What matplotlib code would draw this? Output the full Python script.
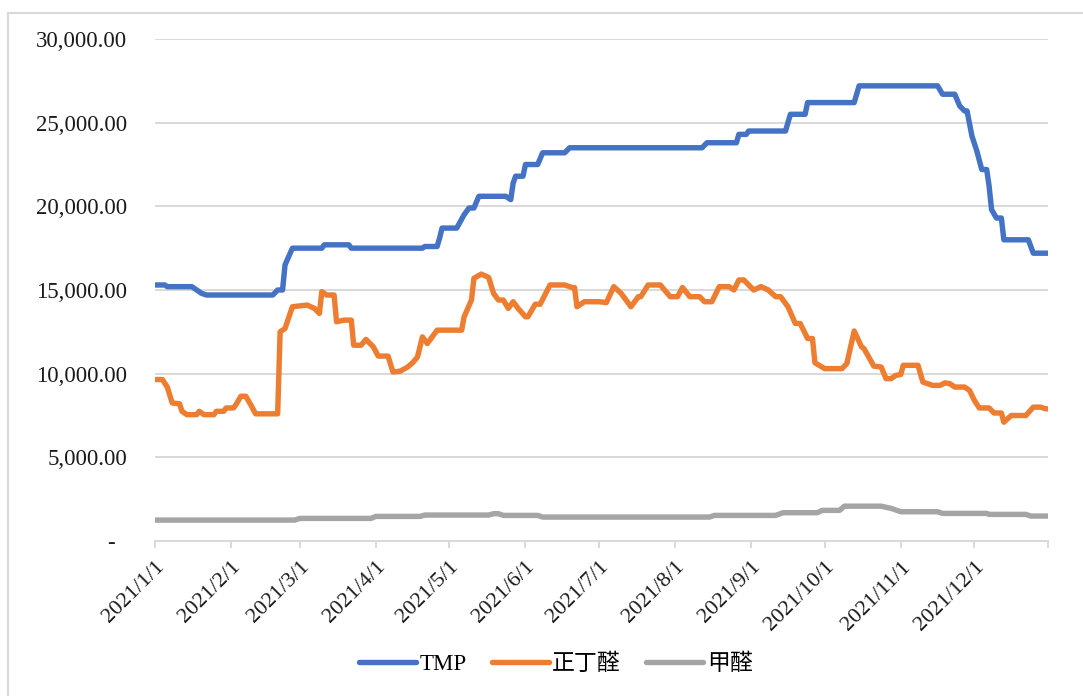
import pandas as pd
import matplotlib
matplotlib.use('Agg')
import matplotlib.pyplot as plt
from matplotlib.lines import Line2D
from matplotlib.ticker import FuncFormatter

plt.rcParams['font.family'] = ['Liberation Serif', 'Noto Sans CJK SC']

# 图例名称
series_names = ['TMP', '正丁醛', '甲醛']

# TMP 价格 (日期, 元/吨)
tmp_dates = ['01-01', '01-05', '01-06', '01-16', '01-20', '01-22', '02-18', '02-20', '02-22',
             '02-23', '02-26', '03-10', '03-11', '03-21', '03-22', '04-20', '04-21', '04-26',
             '04-27', '04-28', '05-04', '05-07', '05-09', '05-11', '05-13', '05-24', '05-26',
             '05-27', '05-28', '05-31', '06-01', '06-06', '06-08', '06-17', '06-19', '08-12',
             '08-14', '08-26', '08-27', '08-30', '08-31', '09-15', '09-17', '09-23', '09-24',
             '10-13', '10-15', '11-16', '11-18', '11-23', '11-25', '11-27', '11-28', '11-30',
             '12-02', '12-04', '12-06', '12-07', '12-08', '12-10', '12-12', '12-13', '12-23',
             '12-25', '12-31']
tmp_vals = [15300, 15300, 15200, 15200, 14800, 14700, 14700, 15000, 15000,
            16500, 17500, 17500, 17700, 17700, 17500, 17500, 17600, 17600,
            18100, 18700, 18700, 19500, 19900, 19900, 20600, 20600, 20400,
            21400, 21800, 21800, 22500, 22500, 23200, 23200, 23500, 23500,
            23800, 23800, 24300, 24300, 24500, 24500, 25500, 25500, 26200,
            26200, 27200, 27200, 26700, 26700, 26000, 25700, 25700, 24200,
            23300, 22200, 22200, 21200, 19800, 19300, 19300, 18000, 18000,
            17200, 17200]

# 正丁醛 价格
nba_dates = ['01-01', '01-04', '01-06', '01-08', '01-11', '01-12', '01-14', '01-18', '01-19',
             '01-21', '01-25', '01-26', '01-29', '01-30', '02-02', '02-03', '02-05', '02-07',
             '02-09', '02-11', '02-20', '02-21', '02-23', '02-26', '03-04', '03-07', '03-09',
             '03-10', '03-12', '03-15', '03-16', '03-19', '03-22', '03-23', '03-26', '03-28',
             '03-31', '04-02', '04-06', '04-08', '04-11', '04-14', '04-16', '04-18', '04-20',
             '04-22', '04-26', '05-06', '05-07', '05-10', '05-11', '05-14', '05-17', '05-19',
             '05-21', '05-23', '05-25', '05-27', '05-29', '06-01', '06-02', '06-05', '06-07',
             '06-11', '06-17', '06-20', '06-21', '06-22', '06-25', '07-01', '07-04', '07-07',
             '07-10', '07-14', '07-17', '07-18', '07-21', '07-26', '07-30', '08-02', '08-04',
             '08-07', '08-11', '08-13', '08-16', '08-19', '08-23', '08-25', '08-27', '08-29',
             '09-02', '09-05', '09-08', '09-11', '09-13', '09-16', '09-19', '09-21', '09-24',
             '09-26', '09-27', '10-01', '10-08', '10-10', '10-13', '10-16', '10-17', '10-21',
             '10-24', '10-26', '10-28', '10-30', '11-01', '11-02', '11-08', '11-10', '11-14',
             '11-17', '11-19', '11-21', '11-23', '11-27', '11-29', '12-01', '12-03', '12-07',
             '12-09', '12-12', '12-13', '12-16', '12-22', '12-25', '12-28', '12-30', '12-31']
nba_vals = [9650, 9650, 9200, 8250, 8200, 7750, 7550, 7550, 7750,
            7550, 7550, 7750, 7750, 7950, 7950, 8150, 8650, 8650,
            8150, 7600, 7600, 12500, 12700, 14000, 14100, 13900, 13600,
            14900, 14700, 14700, 13100, 13200, 13200, 11700, 11700, 12050,
            11600, 11050, 11050, 10100, 10150, 10400, 10650, 11000, 12200,
            11800, 12600, 12600, 13400, 14400, 15700, 15950, 15750, 14800,
            14400, 14400, 13900, 14300, 13900, 13400, 13400, 14150, 14150,
            15300, 15300, 15150, 15150, 14000, 14300, 14300, 14250, 15200,
            14800, 14000, 14600, 14600, 15300, 15300, 14600, 14600, 15150,
            14600, 14600, 14300, 14300, 15200, 15200, 15000, 15600, 15600,
            15000, 15200, 15000, 14600, 14600, 14000, 13000, 13000, 12100,
            12100, 10650, 10300, 10300, 10600, 12550, 11600, 11500, 10450,
            10400, 9700, 9700, 9900, 9950, 10500, 10500, 9500, 9300,
            9300, 9450, 9400, 9200, 9200, 9000, 8400, 7950, 7950,
            7650, 7650, 7100, 7500, 7500, 8000, 8000, 7900, 7900]

# 甲醛 价格
hcho_dates = ['01-01', '02-27', '03-01', '03-30', '04-01', '04-19', '04-21', '05-17', '05-19',
              '05-21', '05-23', '06-06', '06-08', '08-15', '08-17', '09-11', '09-14', '09-28',
              '09-30', '10-07', '10-09', '10-24', '10-28', '11-01', '11-16', '11-18', '12-06',
              '12-07', '12-22', '12-24', '12-31']
hcho_vals = [1250, 1250, 1350, 1350, 1470, 1470, 1550, 1550, 1630,
             1630, 1530, 1530, 1430, 1430, 1530, 1530, 1690, 1690,
             1830, 1830, 2080, 2080, 1950, 1750, 1750, 1650, 1650,
             1590, 1590, 1490, 1490]

colors = ['#4472C4', '#ED7D31', '#A5A5A5']


def to_dates(days):
    return pd.to_datetime(['2021-' + d for d in days])


fig = plt.figure(figsize=(10.83, 6.96), dpi=100)
ax = fig.add_axes([155 / 1083, 1 - 541 / 696, (1048 - 155) / 1083, (541 - 39) / 696])

for dates, vals, c, name in zip([tmp_dates, nba_dates, hcho_dates],
                                [tmp_vals, nba_vals, hcho_vals], colors, series_names):
    ax.plot(to_dates(dates), vals, color=c, lw=3.9, label=name,
            solid_joinstyle='round', solid_capstyle='round', zorder=3)

ax.set_ylim(0, 30000)
ax.set_yticks(range(0, 30001, 5000))
ax.yaxis.set_major_formatter(FuncFormatter(lambda v, p: '-  ' if v == 0 else f'{v:,.2f}'))
ax.grid(axis='y', color='#d9d9d9', lw=1.4)
ax.set_axisbelow(True)

start = pd.Timestamp('2021-01-01')
end = pd.Timestamp('2021-12-31')
ax.set_xlim(start, end)
month_ticks = list(pd.date_range('2021-01-01', '2021-12-01', freq='MS')) + [end]
ax.set_xticks(month_ticks)
ax.set_xticklabels([f'{d.year}/{d.month}/{d.day}' for d in month_ticks[:-1]] + [''])
for lab in ax.get_xticklabels():
    lab.set_rotation(45)
    lab.set_ha('right')
    lab.set_va('top')
    lab.set_rotation_mode('anchor')

for s in ['top', 'right', 'left']:
    ax.spines[s].set_visible(False)
ax.spines['bottom'].set_color('#d9d9d9')
ax.spines['bottom'].set_linewidth(1.4)
ax.tick_params(axis='x', colors='#d9d9d9', length=5, width=1.4, pad=7,
               labelcolor='#1a1a1a', labelsize=16)
ax.tick_params(axis='y', length=0, pad=20, labelcolor='#1a1a1a', labelsize=16.5)

handles = [Line2D([0], [0], color=c, lw=3.9, solid_capstyle='round') for c in colors]
fig.legend(handles, series_names, loc='center', bbox_to_anchor=(0.513, 0.045), ncol=3,
           frameon=False, fontsize=16.5, handlelength=2.5, handletextpad=0.15,
           columnspacing=1.1)

# 外框
fig.add_artist(Line2D([8 / 1083, 8 / 1083], [0, 1 - 13 / 696], transform=fig.transFigure,
                      color='#d9d9d9', lw=1.5))
fig.add_artist(Line2D([8 / 1083, 1], [1 - 13 / 696, 1 - 13 / 696], transform=fig.transFigure,
                      color='#d9d9d9', lw=1.5))

plt.savefig('out.png', dpi=100)
